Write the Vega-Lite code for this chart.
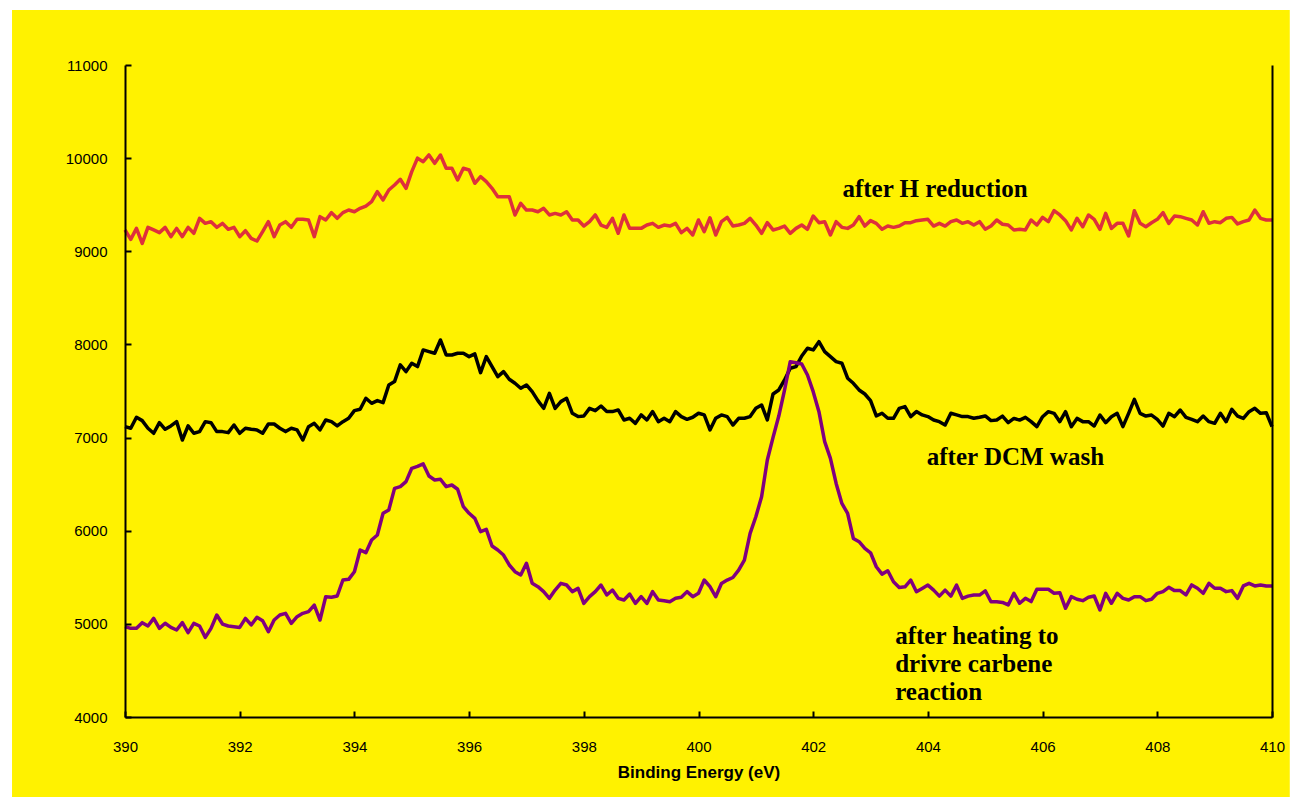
{
"$schema": "https://vega.github.io/schema/vega-lite/v6.json",
"width": 1147, "height": 652,
"autosize": {"type": "none"},
"padding": {"left": 125, "top": 65, "right": 22, "bottom": 82},
"background": "white",
"config": {
  "view": {"stroke": null},
  "axis": {"grid": false, "domainColor": "black", "domainWidth": 2, "tickColor": "black", "tickWidth": 2,
    "labelFont": "Liberation Sans", "labelFontSize": 15, "labelColor": "black",
    "titleFont": "Liberation Sans", "titleFontSize": 17, "titleFontWeight": "bold", "titleColor": "black"}
},
"datasets": {
"red": [
{"x":390.0,"y":9229},{"x":390.1,"y":9128},{"x":390.2,"y":9246},{"x":390.3,"y":9085},{"x":390.4,"y":9257},{"x":390.5,"y":9229},{"x":390.6,"y":9200},{"x":390.7,"y":9257},{"x":390.8,"y":9157},{"x":390.9,"y":9246},
{"x":391.0,"y":9157},{"x":391.1,"y":9257},{"x":391.2,"y":9193},{"x":391.3,"y":9354},{"x":391.4,"y":9300},{"x":391.5,"y":9318},{"x":391.6,"y":9257},{"x":391.7,"y":9300},{"x":391.8,"y":9236},{"x":391.9,"y":9257},
{"x":392.0,"y":9157},{"x":392.1,"y":9221},{"x":392.2,"y":9139},{"x":392.3,"y":9110},{"x":392.4,"y":9211},{"x":392.5,"y":9318},{"x":392.6,"y":9157},{"x":392.7,"y":9282},{"x":392.8,"y":9318},{"x":392.9,"y":9257},
{"x":393.0,"y":9343},{"x":393.1,"y":9343},{"x":393.2,"y":9336},{"x":393.3,"y":9157},{"x":393.4,"y":9372},{"x":393.5,"y":9336},{"x":393.6,"y":9415},{"x":393.7,"y":9354},{"x":393.8,"y":9415},{"x":393.9,"y":9443},
{"x":394.0,"y":9425},{"x":394.1,"y":9461},{"x":394.2,"y":9486},{"x":394.3,"y":9533},{"x":394.4,"y":9640},{"x":394.5,"y":9551},{"x":394.6,"y":9658},{"x":394.7,"y":9712},{"x":394.8,"y":9773},{"x":394.9,"y":9676},
{"x":395.0,"y":9855},{"x":395.1,"y":10000},{"x":395.2,"y":9962},{"x":395.3,"y":10034},{"x":395.4,"y":9944},{"x":395.5,"y":10034},{"x":395.6,"y":9891},{"x":395.7,"y":9891},{"x":395.8,"y":9765},{"x":395.9,"y":9891},
{"x":396.0,"y":9873},{"x":396.1,"y":9730},{"x":396.2,"y":9801},{"x":396.3,"y":9748},{"x":396.4,"y":9676},{"x":396.5,"y":9586},{"x":396.6,"y":9586},{"x":396.7,"y":9586},{"x":396.8,"y":9390},{"x":396.9,"y":9515},
{"x":397.0,"y":9443},{"x":397.1,"y":9443},{"x":397.2,"y":9425},{"x":397.3,"y":9461},{"x":397.4,"y":9390},{"x":397.5,"y":9407},{"x":397.6,"y":9390},{"x":397.7,"y":9425},{"x":397.8,"y":9336},{"x":397.9,"y":9336},
{"x":398.0,"y":9271},{"x":398.1,"y":9318},{"x":398.2,"y":9390},{"x":398.3,"y":9282},{"x":398.4,"y":9257},{"x":398.5,"y":9354},{"x":398.6,"y":9193},{"x":398.7,"y":9390},{"x":398.8,"y":9246},{"x":398.9,"y":9246},
{"x":399.0,"y":9246},{"x":399.1,"y":9282},{"x":399.2,"y":9300},{"x":399.3,"y":9257},{"x":399.4,"y":9282},{"x":399.5,"y":9271},{"x":399.6,"y":9300},{"x":399.7,"y":9200},{"x":399.8,"y":9246},{"x":399.9,"y":9175},
{"x":400.0,"y":9336},{"x":400.1,"y":9211},{"x":400.2,"y":9360},{"x":400.3,"y":9175},{"x":400.4,"y":9318},{"x":400.5,"y":9364},{"x":400.6,"y":9271},{"x":400.7,"y":9282},{"x":400.8,"y":9300},{"x":400.9,"y":9354},
{"x":401.0,"y":9282},{"x":401.1,"y":9193},{"x":401.2,"y":9307},{"x":401.3,"y":9229},{"x":401.4,"y":9246},{"x":401.5,"y":9271},{"x":401.6,"y":9193},{"x":401.7,"y":9246},{"x":401.8,"y":9282},{"x":401.9,"y":9236},
{"x":402.0,"y":9379},{"x":402.1,"y":9307},{"x":402.2,"y":9318},{"x":402.3,"y":9175},{"x":402.4,"y":9318},{"x":402.5,"y":9257},{"x":402.6,"y":9246},{"x":402.7,"y":9282},{"x":402.8,"y":9372},{"x":402.9,"y":9271},
{"x":403.0,"y":9329},{"x":403.1,"y":9300},{"x":403.2,"y":9236},{"x":403.3,"y":9271},{"x":403.4,"y":9257},{"x":403.5,"y":9271},{"x":403.6,"y":9307},{"x":403.7,"y":9307},{"x":403.8,"y":9329},{"x":403.9,"y":9336},
{"x":404.0,"y":9343},{"x":404.1,"y":9271},{"x":404.2,"y":9300},{"x":404.3,"y":9271},{"x":404.4,"y":9318},{"x":404.5,"y":9336},{"x":404.6,"y":9300},{"x":404.7,"y":9318},{"x":404.8,"y":9282},{"x":404.9,"y":9318},
{"x":405.0,"y":9236},{"x":405.1,"y":9271},{"x":405.2,"y":9336},{"x":405.3,"y":9290},{"x":405.4,"y":9282},{"x":405.5,"y":9229},{"x":405.6,"y":9236},{"x":405.7,"y":9229},{"x":405.8,"y":9336},{"x":405.9,"y":9282},
{"x":406.0,"y":9364},{"x":406.1,"y":9318},{"x":406.2,"y":9436},{"x":406.3,"y":9390},{"x":406.4,"y":9329},{"x":406.5,"y":9229},{"x":406.6,"y":9354},{"x":406.7,"y":9264},{"x":406.8,"y":9390},{"x":406.9,"y":9343},
{"x":407.0,"y":9236},{"x":407.1,"y":9407},{"x":407.2,"y":9246},{"x":407.3,"y":9300},{"x":407.4,"y":9300},{"x":407.5,"y":9164},{"x":407.6,"y":9436},{"x":407.7,"y":9300},{"x":407.8,"y":9264},{"x":407.9,"y":9307},
{"x":408.0,"y":9343},{"x":408.1,"y":9415},{"x":408.2,"y":9300},{"x":408.3,"y":9379},{"x":408.4,"y":9372},{"x":408.5,"y":9354},{"x":408.6,"y":9336},{"x":408.7,"y":9282},{"x":408.8,"y":9425},{"x":408.9,"y":9300},
{"x":409.0,"y":9318},{"x":409.1,"y":9307},{"x":409.2,"y":9354},{"x":409.3,"y":9364},{"x":409.4,"y":9293},{"x":409.5,"y":9318},{"x":409.6,"y":9336},{"x":409.7,"y":9443},{"x":409.8,"y":9354},{"x":409.9,"y":9336},
{"x":410.0,"y":9336}
],
"black": [
{"x":390.0,"y":7117},{"x":390.1,"y":7100},{"x":390.2,"y":7218},{"x":390.3,"y":7182},{"x":390.4,"y":7100},{"x":390.5,"y":7046},{"x":390.6,"y":7160},{"x":390.7,"y":7089},{"x":390.8,"y":7125},{"x":390.9,"y":7171},
{"x":391.0,"y":6974},{"x":391.1,"y":7125},{"x":391.2,"y":7046},{"x":391.3,"y":7064},{"x":391.4,"y":7171},{"x":391.5,"y":7160},{"x":391.6,"y":7064},{"x":391.7,"y":7064},{"x":391.8,"y":7053},{"x":391.9,"y":7135},
{"x":392.0,"y":7046},{"x":392.1,"y":7100},{"x":392.2,"y":7089},{"x":392.3,"y":7082},{"x":392.4,"y":7046},{"x":392.5,"y":7146},{"x":392.6,"y":7146},{"x":392.7,"y":7100},{"x":392.8,"y":7064},{"x":392.9,"y":7100},
{"x":393.0,"y":7082},{"x":393.1,"y":6974},{"x":393.2,"y":7117},{"x":393.3,"y":7153},{"x":393.4,"y":7082},{"x":393.5,"y":7189},{"x":393.6,"y":7171},{"x":393.7,"y":7125},{"x":393.8,"y":7171},{"x":393.9,"y":7207},
{"x":394.0,"y":7289},{"x":394.1,"y":7304},{"x":394.2,"y":7422},{"x":394.3,"y":7368},{"x":394.4,"y":7397},{"x":394.5,"y":7375},{"x":394.6,"y":7565},{"x":394.7,"y":7601},{"x":394.8,"y":7780},{"x":394.9,"y":7708},
{"x":395.0,"y":7798},{"x":395.1,"y":7762},{"x":395.2,"y":7941},{"x":395.3,"y":7923},{"x":395.4,"y":7905},{"x":395.5,"y":8048},{"x":395.6,"y":7887},{"x":395.7,"y":7887},{"x":395.8,"y":7905},{"x":395.9,"y":7905},
{"x":396.0,"y":7869},{"x":396.1,"y":7898},{"x":396.2,"y":7697},{"x":396.3,"y":7869},{"x":396.4,"y":7762},{"x":396.5,"y":7654},{"x":396.6,"y":7708},{"x":396.7,"y":7626},{"x":396.8,"y":7583},{"x":396.9,"y":7529},
{"x":397.0,"y":7565},{"x":397.1,"y":7493},{"x":397.2,"y":7397},{"x":397.3,"y":7314},{"x":397.4,"y":7475},{"x":397.5,"y":7314},{"x":397.6,"y":7386},{"x":397.7,"y":7422},{"x":397.8,"y":7261},{"x":397.9,"y":7225},
{"x":398.0,"y":7232},{"x":398.1,"y":7314},{"x":398.2,"y":7289},{"x":398.3,"y":7339},{"x":398.4,"y":7279},{"x":398.5,"y":7279},{"x":398.6,"y":7297},{"x":398.7,"y":7189},{"x":398.8,"y":7207},{"x":398.9,"y":7153},
{"x":399.0,"y":7243},{"x":399.1,"y":7189},{"x":399.2,"y":7279},{"x":399.3,"y":7171},{"x":399.4,"y":7207},{"x":399.5,"y":7171},{"x":399.6,"y":7279},{"x":399.7,"y":7225},{"x":399.8,"y":7196},{"x":399.9,"y":7218},
{"x":400.0,"y":7261},{"x":400.1,"y":7243},{"x":400.2,"y":7082},{"x":400.3,"y":7207},{"x":400.4,"y":7243},{"x":400.5,"y":7225},{"x":400.6,"y":7135},{"x":400.7,"y":7207},{"x":400.8,"y":7207},{"x":400.9,"y":7225},
{"x":401.0,"y":7314},{"x":401.1,"y":7350},{"x":401.2,"y":7189},{"x":401.3,"y":7468},{"x":401.4,"y":7511},{"x":401.5,"y":7619},{"x":401.6,"y":7744},{"x":401.7,"y":7762},{"x":401.8,"y":7876},{"x":401.9,"y":7959},
{"x":402.0,"y":7941},{"x":402.1,"y":8030},{"x":402.2,"y":7923},{"x":402.3,"y":7869},{"x":402.4,"y":7816},{"x":402.5,"y":7798},{"x":402.6,"y":7637},{"x":402.7,"y":7583},{"x":402.8,"y":7511},{"x":402.9,"y":7468},
{"x":403.0,"y":7397},{"x":403.1,"y":7232},{"x":403.2,"y":7261},{"x":403.3,"y":7207},{"x":403.4,"y":7207},{"x":403.5,"y":7314},{"x":403.6,"y":7332},{"x":403.7,"y":7225},{"x":403.8,"y":7279},{"x":403.9,"y":7243},
{"x":404.0,"y":7225},{"x":404.1,"y":7189},{"x":404.2,"y":7171},{"x":404.3,"y":7135},{"x":404.4,"y":7261},{"x":404.5,"y":7243},{"x":404.6,"y":7225},{"x":404.7,"y":7225},{"x":404.8,"y":7207},{"x":404.9,"y":7218},
{"x":405.0,"y":7232},{"x":405.1,"y":7182},{"x":405.2,"y":7189},{"x":405.3,"y":7230},{"x":405.4,"y":7160},{"x":405.5,"y":7206},{"x":405.6,"y":7188},{"x":405.7,"y":7217},{"x":405.8,"y":7171},{"x":405.9,"y":7117},
{"x":406.0,"y":7224},{"x":406.1,"y":7278},{"x":406.2,"y":7260},{"x":406.3,"y":7171},{"x":406.4,"y":7278},{"x":406.5,"y":7117},{"x":406.6,"y":7206},{"x":406.7,"y":7171},{"x":406.8,"y":7171},{"x":406.9,"y":7124},
{"x":407.0,"y":7242},{"x":407.1,"y":7160},{"x":407.2,"y":7224},{"x":407.3,"y":7260},{"x":407.4,"y":7117},{"x":407.5,"y":7260},{"x":407.6,"y":7410},{"x":407.7,"y":7260},{"x":407.8,"y":7231},{"x":407.9,"y":7242},
{"x":408.0,"y":7196},{"x":408.1,"y":7124},{"x":408.2,"y":7260},{"x":408.3,"y":7224},{"x":408.4,"y":7296},{"x":408.5,"y":7217},{"x":408.6,"y":7196},{"x":408.7,"y":7171},{"x":408.8,"y":7231},{"x":408.9,"y":7171},
{"x":409.0,"y":7153},{"x":409.1,"y":7260},{"x":409.2,"y":7171},{"x":409.3,"y":7303},{"x":409.4,"y":7231},{"x":409.5,"y":7206},{"x":409.6,"y":7278},{"x":409.7,"y":7314},{"x":409.8,"y":7260},{"x":409.9,"y":7267},
{"x":410.0,"y":7117}
],
"purple": [
{"x":390.0,"y":4970},{"x":390.1,"y":4952},{"x":390.2,"y":4952},{"x":390.3,"y":5013},{"x":390.4,"y":4977},{"x":390.5,"y":5059},{"x":390.6,"y":4952},{"x":390.7,"y":5006},{"x":390.8,"y":4962},{"x":390.9,"y":4934},
{"x":391.0,"y":5013},{"x":391.1,"y":4905},{"x":391.2,"y":5006},{"x":391.3,"y":4977},{"x":391.4,"y":4855},{"x":391.5,"y":4952},{"x":391.6,"y":5095},{"x":391.7,"y":4998},{"x":391.8,"y":4977},{"x":391.9,"y":4970},
{"x":392.0,"y":4962},{"x":392.1,"y":5059},{"x":392.2,"y":4988},{"x":392.3,"y":5070},{"x":392.4,"y":5034},{"x":392.5,"y":4916},{"x":392.6,"y":5041},{"x":392.7,"y":5095},{"x":392.8,"y":5113},{"x":392.9,"y":5006},
{"x":393.0,"y":5077},{"x":393.1,"y":5113},{"x":393.2,"y":5131},{"x":393.3,"y":5202},{"x":393.4,"y":5041},{"x":393.5,"y":5292},{"x":393.6,"y":5285},{"x":393.7,"y":5299},{"x":393.8,"y":5471},{"x":393.9,"y":5478},
{"x":394.0,"y":5560},{"x":394.1,"y":5793},{"x":394.2,"y":5764},{"x":394.3,"y":5900},{"x":394.4,"y":5954},{"x":394.5,"y":6187},{"x":394.6,"y":6223},{"x":394.7,"y":6455},{"x":394.8,"y":6473},{"x":394.9,"y":6527},
{"x":395.0,"y":6670},{"x":395.1,"y":6690},{"x":395.2,"y":6717},{"x":395.3,"y":6588},{"x":395.4,"y":6545},{"x":395.5,"y":6552},{"x":395.6,"y":6473},{"x":395.7,"y":6491},{"x":395.8,"y":6445},{"x":395.9,"y":6258},
{"x":396.0,"y":6187},{"x":396.1,"y":6133},{"x":396.2,"y":5990},{"x":396.3,"y":6015},{"x":396.4,"y":5836},{"x":396.5,"y":5793},{"x":396.6,"y":5739},{"x":396.7,"y":5632},{"x":396.8,"y":5560},{"x":396.9,"y":5525},
{"x":397.0,"y":5650},{"x":397.1,"y":5435},{"x":397.2,"y":5399},{"x":397.3,"y":5346},{"x":397.4,"y":5274},{"x":397.5,"y":5363},{"x":397.6,"y":5435},{"x":397.7,"y":5417},{"x":397.8,"y":5346},{"x":397.9,"y":5381},
{"x":398.0,"y":5220},{"x":398.1,"y":5292},{"x":398.2,"y":5346},{"x":398.3,"y":5417},{"x":398.4,"y":5310},{"x":398.5,"y":5363},{"x":398.6,"y":5274},{"x":398.7,"y":5256},{"x":398.8,"y":5320},{"x":398.9,"y":5220},
{"x":399.0,"y":5292},{"x":399.1,"y":5220},{"x":399.2,"y":5346},{"x":399.3,"y":5256},{"x":399.4,"y":5249},{"x":399.5,"y":5238},{"x":399.6,"y":5274},{"x":399.7,"y":5285},{"x":399.8,"y":5346},{"x":399.9,"y":5292},
{"x":400.0,"y":5328},{"x":400.1,"y":5471},{"x":400.2,"y":5400},{"x":400.3,"y":5291},{"x":400.4,"y":5434},{"x":400.5,"y":5470},{"x":400.6,"y":5498},{"x":400.7,"y":5577},{"x":400.8,"y":5685},{"x":400.9,"y":5971},
{"x":401.0,"y":6150},{"x":401.1,"y":6365},{"x":401.2,"y":6759},{"x":401.3,"y":7002},{"x":401.4,"y":7231},{"x":401.5,"y":7510},{"x":401.6,"y":7815},{"x":401.7,"y":7804},{"x":401.8,"y":7790},{"x":401.9,"y":7672},
{"x":402.0,"y":7493},{"x":402.1,"y":7278},{"x":402.2,"y":6956},{"x":402.3,"y":6777},{"x":402.4,"y":6508},{"x":402.5,"y":6293},{"x":402.6,"y":6186},{"x":402.7,"y":5917},{"x":402.8,"y":5882},{"x":402.9,"y":5810},
{"x":403.0,"y":5763},{"x":403.1,"y":5613},{"x":403.2,"y":5534},{"x":403.3,"y":5570},{"x":403.4,"y":5452},{"x":403.5,"y":5391},{"x":403.6,"y":5398},{"x":403.7,"y":5470},{"x":403.8,"y":5345},{"x":403.9,"y":5380},
{"x":404.0,"y":5416},{"x":404.1,"y":5362},{"x":404.2,"y":5298},{"x":404.3,"y":5362},{"x":404.4,"y":5298},{"x":404.5,"y":5416},{"x":404.6,"y":5273},{"x":404.7,"y":5298},{"x":404.8,"y":5309},{"x":404.9,"y":5309},
{"x":405.0,"y":5355},{"x":405.1,"y":5237},{"x":405.2,"y":5237},{"x":405.3,"y":5230},{"x":405.4,"y":5203},{"x":405.5,"y":5328},{"x":405.6,"y":5221},{"x":405.7,"y":5274},{"x":405.8,"y":5239},{"x":405.9,"y":5371},
{"x":406.0,"y":5371},{"x":406.1,"y":5371},{"x":406.2,"y":5328},{"x":406.3,"y":5335},{"x":406.4,"y":5167},{"x":406.5,"y":5292},{"x":406.6,"y":5264},{"x":406.7,"y":5249},{"x":406.8,"y":5285},{"x":406.9,"y":5299},
{"x":407.0,"y":5149},{"x":407.1,"y":5328},{"x":407.2,"y":5221},{"x":407.3,"y":5328},{"x":407.4,"y":5274},{"x":407.5,"y":5256},{"x":407.6,"y":5292},{"x":407.7,"y":5292},{"x":407.8,"y":5249},{"x":407.9,"y":5264},
{"x":408.0,"y":5328},{"x":408.1,"y":5346},{"x":408.2,"y":5392},{"x":408.3,"y":5357},{"x":408.4,"y":5357},{"x":408.5,"y":5310},{"x":408.6,"y":5418},{"x":408.7,"y":5382},{"x":408.8,"y":5328},{"x":408.9,"y":5435},
{"x":409.0,"y":5382},{"x":409.1,"y":5382},{"x":409.2,"y":5346},{"x":409.3,"y":5357},{"x":409.4,"y":5274},{"x":409.5,"y":5407},{"x":409.6,"y":5435},{"x":409.7,"y":5407},{"x":409.8,"y":5418},{"x":409.9,"y":5407},
{"x":410.0,"y":5407}
],
"labels": [
{"x":402.51,"y":9583,"t":"after H reduction"},
{"x":403.98,"y":6706,"t":"after DCM wash"},
{"x":403.43,"y":4784,"t":"after heating to\ndrivre carbene\nreaction"}
]
},
"layer": [
{"data": {"values": [{}]},
 "mark": {"type": "rect", "color": "#FFF200", "clip": false},
 "encoding": {
  "x": {"datum": 388.03, "type": "quantitative"},
  "x2": {"datum": 410.31},
  "y": {"datum": 11591, "type": "quantitative", "axis": null},
  "y2": {"datum": 3141}
 }},
{"data": {"name": "red"},
 "mark": {"type": "line", "color": "#DE303C", "strokeWidth": 3.5, "strokeJoin": "round"},
 "encoding": {
  "x": {"field": "x", "type": "quantitative", "scale": {"domain": [390, 410], "nice": false, "zero": false},
        "axis": {"zindex": 2, "values": [390,392,394,396,398,400,402,404,406,408,410], "title": "Binding Energy (eV)", "tickSize": -6, "labelPadding": 28, "titlePadding": 10, "format": "d", "labelFlush": false}},
  "y": {"field": "y", "type": "quantitative", "scale": {"domain": [4000, 11000], "nice": false, "zero": false},
        "axis": {"zindex": 2, "values": [4000,5000,6000,7000,8000,9000,10000,11000], "title": null, "tickSize": -6, "labelPadding": 24, "format": "d"}}
 }},
{"data": {"name": "black"},
 "mark": {"type": "line", "color": "#000000", "strokeWidth": 3.5, "strokeJoin": "round"},
 "encoding": {
  "x": {"field": "x", "type": "quantitative"},
  "y": {"field": "y", "type": "quantitative", "axis": {"zindex": 2, "orient": "right", "labels": false, "ticks": false, "title": null, "domain": true}}
 }},
{"data": {"name": "purple"},
 "mark": {"type": "line", "color": "#800080", "strokeWidth": 3.5, "strokeJoin": "round"},
 "encoding": {
  "x": {"field": "x", "type": "quantitative"},
  "y": {"field": "y", "type": "quantitative", "axis": null}
 }},
{"data": {"name": "labels"},
 "mark": {"type": "text", "font": "Liberation Serif", "fontWeight": "bold", "fontSize": 25, "align": "left", "baseline": "alphabetic", "lineBreak": "\n", "lineHeight": 28, "color": "black"},
 "encoding": {
  "x": {"field": "x", "type": "quantitative"},
  "y": {"field": "y", "type": "quantitative", "axis": null},
  "text": {"field": "t"}
 }}
],
"resolve": {"axis": {"y": "independent"}}
}
